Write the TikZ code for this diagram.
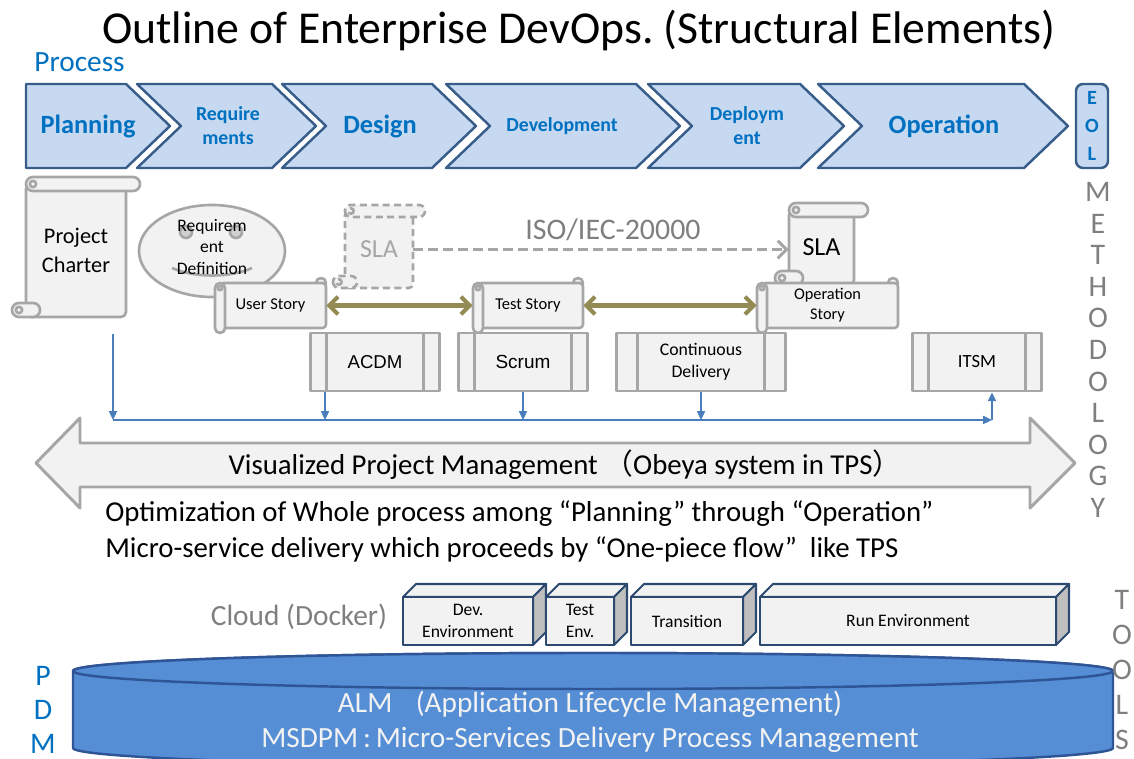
\documentclass[tikz,border=0pt]{standalone}
\usepackage{fontspec}
\setmainfont{Carlito}
\newfontfamily\arialfont{Liberation Sans}
\newfontfamily\cjk{Noto Sans CJK JP}
\usepackage{xcolor}
\usepackage{tikz}
\usetikzlibrary{arrows.meta, positioning, calc}

\definecolor{chevfill}{HTML}{C6D9F1}
\definecolor{chevline}{HTML}{385D8A}
\definecolor{procblue}{HTML}{0070C0}
\definecolor{grayline}{HTML}{A6A6A6}
\definecolor{scrollfill}{HTML}{F2F2F2}
\definecolor{eyegray}{HTML}{D0D0D0}
\definecolor{khaki}{HTML}{948A54}
\definecolor{connblue}{HTML}{4A7EBB}
\definecolor{textgray}{HTML}{7F7F7F}
\definecolor{boxline}{HTML}{2C4A70}
\definecolor{boxside}{HTML}{BFBFBF}
\definecolor{cylfill}{HTML}{558ED5}
\definecolor{cylline}{HTML}{2F5597}

\tikzset{
  chev/.style={fill=chevfill, draw=chevline, line width=1.4pt},
  chevbig/.style={font=\bfseries\fontsize{15}{18}\selectfont, text=procblue},
  chevsmall/.style={font=\bfseries\fontsize{11.3}{13.6}\selectfont, text=procblue, align=center},
  scroll/.style={draw=grayline, fill=scrollfill, line width=1.5pt},
  dashscroll/.style={scroll, dash pattern=on 4pt off 2.5pt},
  procbox/.style={draw=grayline, fill=scrollfill, line width=1.6pt, minimum height=1.16cm,
    inner sep=0pt, align=center,
    path picture={\draw[grayline, line width=1.6pt]
      ([xshift=#1]path picture bounding box.north west) -- ([xshift=#1]path picture bounding box.south west)
      ([xshift=-#1]path picture bounding box.north east) -- ([xshift=-#1]path picture bounding box.south east);}},
  procbox/.default=9pt,
  conn/.style={draw=connblue, line width=1.1pt, -{Triangle[length=5pt,width=4.5pt]}},
  storyarrow/.style={draw=khaki, line width=2.3pt,
    {Straight Barb[length=5pt,width=10pt]}-{Straight Barb[length=5pt,width=10pt]}},
  slaarrow/.style={draw=grayline, line width=1.7pt, dash pattern=on 5.7pt off 2.8pt,
    -{Straight Barb[length=5pt,width=10pt]}},
  bigarrow/.style={fill=scrollfill, draw=grayline, line width=1.7pt},
  boxface/.style={draw=boxline, fill=scrollfill, line width=1.2pt},
  cyl/.style={fill=cylfill, draw=cylline, line width=1.4pt},
  sideletter/.style={font=\fontsize{17}{20}\selectfont, inner sep=0pt},
}

% vertical scroll: name, x0, y0, x1, y1, roll size, style, text options, text
\newcommand{\vscroll}[9]{%
  \filldraw[#7, rounded corners={#6*0.4pt}] ({#2+2*#6},{#3+#6}) -- ({#4-2*#6},{#3+#6})
    -- ({#4-2*#6},#5) -- ({#2+2*#6},#5) -- cycle;
  \filldraw[#7, rounded corners={#6*0.56pt}] ({#2+2*#6},#3) rectangle (#4,{#3+2*#6});
  \filldraw[#7, rounded corners={#6*0.56pt}] (#2,{#5-2*#6}) rectangle ({#2+4*#6},#5);
  \filldraw[#7] ({#2+3*#6},{#3+#6}) circle ({#6*0.45});
  \filldraw[#7] ({#2+#6},{#5-#6}) circle ({#6*0.45});
  \node[align=center, inner sep=0pt, minimum width={(#4-#2-4*#6)*0.02cm},
    minimum height={(#5-#3-#6)*0.02cm}, #8] (#1) at ({(#2+#4)/2},{(#3+#5+#6)/2}) {#9};
}
% horizontal scroll: name, x0, y0, x1, y1, roll size, style, text options, text
\newcommand{\hscroll}[9]{%
  \filldraw[#7] ({#4-#6},{#3+#6}) circle (#6);
  \filldraw[#7, rounded corners={#6*0.4pt}] ({#2+#6},{#3+#6}) rectangle (#4,{#5-#6});
  \filldraw[#7, rounded corners={#6*0.56pt}] (#2,{#3+#6}) rectangle ({#2+2*#6},#5);
  \filldraw[#7] ({#2+#6},{#3+2*#6}) circle ({#6*0.45});
  \node[align=center, inner sep=0pt, minimum width={(#4-#2)*0.02cm},
    minimum height={(#5-#3-2*#6)*0.02cm}, #8] (#1) at ({(#2+#4)/2},{(#3+#5)/2}) {#9};
}
% cloud environment box: name, x0, x1, text
\newcommand{\cuboid}[4]{%
  \filldraw[boxface] (#2,597) -- ({#2+13},584) -- ({#3+13},584) -- (#3,597) -- cycle;
  \filldraw[boxface, fill=boxside] (#3,597) -- ({#3+13},584) -- ({#3+13},632) -- (#3,645) -- cycle;
  \node[boxface, minimum width={(#3-#2)*0.02cm}, minimum height=0.96cm, inner sep=0pt,
    align=center, font=\fontsize{10}{13}\selectfont] (#1) at ({(#2+#3)/2},621) {#4};
}

\begin{document}
\begin{tikzpicture}[x=0.02cm, y=-0.02cm, line join=round]
  \useasboundingbox (0,0) rectangle (1134,759);
  \clip (0,0) rectangle (1134,759);

  \node[font=\fontsize{26}{31}\selectfont] (title) at (579,30)
    {Outline of Enterprise DevOps.\ (Structural Elements)};
  \node[font=\fontsize{16.7}{20}\selectfont, text=procblue, anchor=west, inner sep=0pt] (process) at (34,62) {Process};

  % process chevrons
  \filldraw[chev] (26,84) -- (126,84) -- (170,126) -- (126,168) -- (26,168) -- cycle;
  \foreach \xa/\xb in {137/272, 282/432, 446/636, 648/800, 818/1024} {
    \filldraw[chev] (\xa,84) -- (\xb,84) -- ({\xb+44},126) -- (\xb,168) -- (\xa,168) -- ({\xa+44},126) -- cycle;
  }
  \filldraw[chev, rounded corners=4pt] (1076,84) rectangle (1108,168);
  \node[chevbig] (planning) at (88,126) {Planning};
  \node[chevsmall] (requirements) at (228,126) {Require\\ments};
  \node[chevbig] (design) at (380,126) {Design};
  \node[chevsmall] (development) at (562,126) {Development};
  \node[chevsmall] (deployment) at (747,126) {Deploym\\ent};
  \node[chevbig] (operation) at (944,126) {Operation};
  \node[chevsmall, font=\bfseries\fontsize{11.5}{15.9}\selectfont] (eol) at (1092,126) {E\\O\\L};

  % methodology documents
  \vscroll{charter}{12}{177}{140}{317}{7}{scroll}{font=\fontsize{12.7}{16.5}\selectfont}{Project\\Charter}
  \filldraw[scroll] (212,251) ellipse [x radius=73, y radius=46];
  \filldraw[scroll, fill=eyegray] (186,232) circle (6) (236,232) circle (6);
  \draw[grayline, line width=1.5pt] (172,268) .. controls (195,278) and (230,278) .. (252,268);
  \node[align=center, font=\fontsize{10}{12.4}\selectfont] (reqdef) at (212,247) {Requirem\\ent\\Definition};
  \vscroll{slaold}{333}{205}{425}{288}{6}{dashscroll}{font=\fontsize{14.8}{17}\selectfont, text=grayline}{SLA}
  \vscroll{sla}{775}{203}{868}{285}{7}{scroll}{font=\fontsize{14.8}{17}\selectfont}{SLA}
  \hscroll{ustory}{215}{278}{326}{333}{5}{scroll}{font=\fontsize{9.4}{11}\selectfont}{User Story}
  \hscroll{tstory}{473}{278}{583}{333}{5}{scroll}{font=\fontsize{9.4}{11}\selectfont}{Test Story}
  \hscroll{ostory}{757}{278}{898}{333}{5}{scroll}{font=\fontsize{9.3}{11.3}\selectfont}{Operation\\Story}

  \draw[slaarrow] (slaold.east) -- (slaold.east -| sla.west);
  \node[font=\fontsize{17}{20}\selectfont, text=textgray] (iso) at (613,230) {ISO/IEC-20000};
  \draw[storyarrow] (ustory.east) -- (tstory.west);
  \draw[storyarrow] (tstory.east) -- (ostory.west);

  % methods
  \node[procbox, minimum width=2.58cm, font=\arialfont\fontsize{10.6}{13}\selectfont] (acdm) at (375,362) {ACDM};
  \node[procbox, minimum width=2.58cm, font=\arialfont\fontsize{10.8}{13}\selectfont] (scrum) at (523,362) {Scrum};
  \node[procbox=12pt, minimum width=3.38cm, font=\fontsize{10.1}{12.5}\selectfont] (cdel) at (701,362) {Continuous\\Delivery};
  \node[procbox, minimum width=2.58cm, font=\fontsize{10.6}{13}\selectfont] (itsm) at (977,362) {ITSM};

  % links down to the management bus
  \coordinate (chdrop) at (113,334);
  \coordinate (busL) at (113,420);
  \coordinate (busR) at (992,420);
  \coordinate (acdmdrop) at ($(acdm.south)+(-50,0)$);
  \draw[conn] (chdrop) -- (busL);
  \draw[conn] (acdmdrop) -- (acdmdrop |- busL);
  \draw[conn] (scrum.south) -- (scrum.south |- busL);
  \draw[conn] (cdel.south) -- (cdel.south |- busL);
  \draw[conn] (busL) -- (busR);
  \draw[conn] (busR) -- (busR |- itsm.south);

  % visualized management
  \filldraw[bigarrow] (36,463) -- (80,418) -- (80,443) -- (1030,443) -- (1030,418) -- (1075,463)
    -- (1030,508) -- (1030,487) -- (80,487) -- (80,508) -- cycle;
  \node[font=\fontsize{16.4}{20}\selectfont] (vpm) at (565,465)
    {Visualized Project Management {\cjk （}Obeya system in TPS{\cjk ）}};
  \node[font=\fontsize{16.4}{20}\selectfont, anchor=west, inner sep=0pt] (optim) at (105,514)
    {Optimization of Whole process among “Planning” through “Operation”};
  \node[font=\fontsize{16.4}{20}\selectfont, anchor=west, inner sep=0pt] (micro) at (105,549)
    {Micro-service delivery which proceeds by “One-piece flow”\ \ like TPS};

  \foreach \ch [count=\i] in {M,E,T,H,O,D,O,L,O,G,Y}
    \node[sideletter, text=textgray] (meth\i) at (1098,{192+31.6*(\i-1)}) {\ch};

  % tools
  \node[font=\fontsize{16.7}{20}\selectfont, text=textgray] (cloud) at (299,617) {Cloud (Docker)};
  \cuboid{devenv}{403}{533}{Dev.\\Environment}
  \cuboid{testenv}{546}{614}{Test\\Env.}
  \cuboid{transition}{631}{743}{Transition}
  \cuboid{runenv}{760}{1056}{Run Environment}

  \filldraw[cyl] (73,671) -- (73,748) arc[start angle=180, end angle=0, x radius=520, y radius=18]
    -- (1113,671) arc[start angle=0, end angle=-180, x radius=520, y radius=18] -- cycle;
  \draw[cyl] (593,671) ellipse [x radius=520, y radius=18];
  \node[font=\fontsize{16.7}{20}\selectfont, text=scrollfill] (alm) at (590,704)
    {ALM\hspace{0.8em}(Application Lifecycle Management)};
  \node[font=\fontsize{16.7}{20}\selectfont, text=scrollfill] (msdpm) at (590,740)
    {MSDPM\,:\,Micro-Services Delivery Process Management};

  \foreach \ch [count=\i] in {T,O,O,L,S}
    \node[sideletter, text=textgray] (tools\i) at (1122,{600+35*(\i-1)}) {\ch};
  \foreach \ch [count=\i] in {P,D,M}
    \node[sideletter, text=procblue] (pdm\i) at (43,{676+34*(\i-1)}) {\ch};
\end{tikzpicture}
\end{document}
